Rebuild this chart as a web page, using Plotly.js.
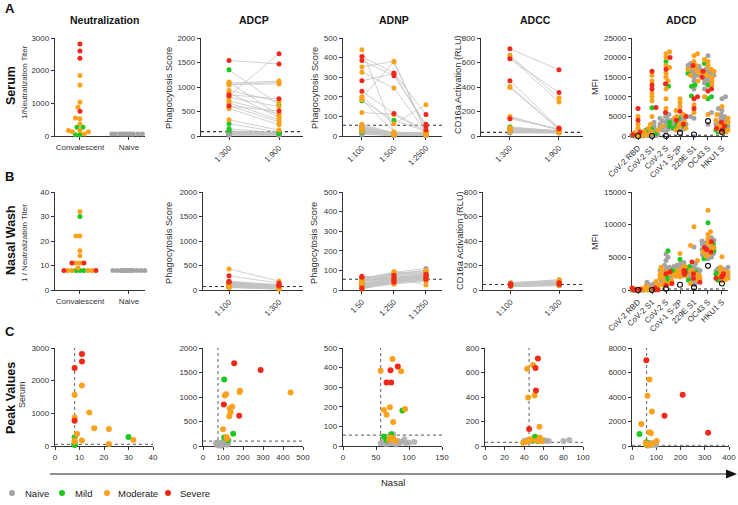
<!DOCTYPE html>
<html><head><meta charset="utf-8">
<script src="https://cdn.plot.ly/plotly-3.0.1.min.js"></script>
<style>html,body{margin:0;padding:0;background:#fff}#chart{width:738px;height:505px}</style>
</head><body><div id="chart"></div>
<script>
// ---------------- DATA ----------------
const groupNames = ['Naive','Mild','Moderate','Severe'];
const groupColors = ['#a4a4a4','#1fc81f','#fba21d','#f2281b'];

const neutCategories = ['Convalescent','Naive'];
const neutSerumSevere = [2820, 2600, 2380, 760];
const neutSerumMild = [270, 270, 40, 40];
const neutSerumModerate = [1850, 1560, 1030, 880, 550, 530, 370, 170, 170, 130, 130, 60];
const neutSerumNaive = [60, 60, 60, 60, 60, 60, 60, 60, 60, 60, 60, 60];
const neutNasalSevere = [11, 11, 8, 8];
const neutNasalMild = [30, 8, 8, 8];
const neutNasalModerate = [32, 22, 22, 16, 14, 11, 11, 9, 8, 8, 8, 8];
const neutNasalNaive = [8, 8, 8, 8, 8, 8, 8, 8, 8, 8, 8, 8];

const adcpSerumDilutions = ['1:300','1:900'];
const adcpSerumSevere = [[1540,1470],[820,1680],[840,760],[610,510]];
const adcpSerumMild = [[1350,640],[250,80],[150,60],[110,50]];
const adcpSerumModerate = [[1080,1120],[1100,420],[1060,1060],[1040,1100],[930,700],[880,380],[790,600],[720,450],[680,330],[620,290],[560,230],[330,120]];
const adcpSerumNaive = [[95,70],[85,60],[80,75],[70,50],[65,45],[60,55],[55,40],[50,35],[45,50],[40,30],[35,25],[30,40],[25,20],[20,30],[15,15]];

const adnpSerumDilutions = ['1:100','1:500','1:2500'];
const adnpSerumSevere = [[405,322,110],[385,308,60],[282,318,50],[228,115,30]];
const adnpSerumMild = [[180,80,25],[40,15,10],[30,12,10],[20,10,8]];
const adnpSerumModerate = [[440,20,15],[352,382,20],[325,245,20],[200,62,160],[195,378,20],[185,20,12],[120,110,20],[60,15,10],[45,12,8],[35,10,10],[30,8,5],[25,5,5]];
const adnpSerumNaive = [[55,15,20],[50,12,18],[45,10,15],[40,10,12],[35,8,10],[30,8,10],[28,6,8],[25,6,8],[22,5,6],[20,5,6],[18,4,5],[15,4,5],[12,3,4],[10,3,4],[8,2,3]];

const adccSerumDilutions = ['1:300','1:900'];
const adccSerumSevere = [[712,540],[630,355],[452,65],[140,60]];
const adccSerumMild = [[75,40],[60,35],[50,30],[45,30]];
const adccSerumModerate = [[660,310],[645,278],[405,60],[395,55],[160,50],[150,50],[70,40],[60,35],[55,35],[50,30],[45,30],[40,30]];
const adccSerumNaive = [[65,45],[60,42],[55,40],[52,38],[50,36],[48,35],[45,34],[42,33],[40,32],[38,31],[35,30],[32,29],[30,28],[28,27],[25,25]];

const antigens = ['CoV-2 RBD','CoV-2 S1','CoV-2 S','CoV-1 S-2P','229E S1','OC43 S','HKU1 S'];
const adcdSerumSevere = [[7000,4000,1000,300],[16500,13000,12000,7300],[20000,17000,13300,6000],[6300,5000,4000,3000],[18000,10000,9500,7000],[16500,12000,11500,15000],[3500,2500,2000,1500]];
const adcdSerumMild = [[200,150,100,50],[7200,1800,1500,500],[19000,12700,3500,2500],[4500,3000,2500,2000],[13000,12700,10200,16000],[18500,13000,10000,9500],[3000,2000,1500,1000]];
const adcdSerumModerate = [
 [5000,3000,2000,1200,800,500,400,300,200,150,100,50],
 [15500,14000,11000,10000,9000,5000,3000,2000,1500,1000,600,300],
 [21500,21000,20000,18000,17500,16000,15000,14000,12000,9500,7000,2500],
 [9500,8500,7500,6500,5500,5000,4500,3500,3000,2500,2000,1500],
 [21000,20500,19000,18000,17000,16500,15500,14000,8000,6000,16000,17500],
 [19500,19000,18000,16000,15500,14000,13000,10000,5500,15000,16500,17000],
 [7500,5500,4500,4000,3500,3000,2800,2500,2000,1500,1200,1000]];
const adcdSerumNaive = [
 [400,300,300,200,200,150,100,100,50,50,0,0,0,0,0],
 [3500,2500,1500,1200,1000,800,700,600,500,400,300,200,100,100,0],
 [5500,5000,4500,4200,4000,3800,3500,3000,2800,2500,2200,2000,1800,1500,1000],
 [5000,4500,4000,3800,3500,3300,3100,3000,2800,2600,2400,2200,2000,1800,1500],
 [18500,18000,17800,17500,17200,17000,16800,16500,16000,15500,15000,14000,12000,5000,4500],
 [20500,17000,16500,16000,15800,15500,15500,15200,15000,14500,14000,13500,12000,6000,3000],
 [10000,9500,7000,6500,5500,5000,4500,4000,3500,3000,2500,2000,1800,1500,1000]];
const adcdSerumControl = [0, 0, 0, 800, 400, 3800, 1000];

const adcpNasalDilutions = ['1:100','1:300'];
const adcpNasalSevere = [[290,140],[180,110],[170,90],[160,80]];
const adcpNasalMild = [[120,70],[100,60],[90,50],[80,40]];
const adcpNasalModerate = [[430,180],[150,100],[140,90],[130,80],[120,70],[110,60],[100,50],[90,40],[80,30],[70,30],[60,20],[50,20]];
const adcpNasalNaive = [[150,100],[140,90],[130,85],[120,80],[110,75],[100,70],[95,65],[90,60],[85,55],[80,50],[75,45],[70,40],[65,35],[60,30],[50,25]];

const adnpNasalDilutions = ['1:50','1:250','1:1250'];
const adnpNasalSevere = [[70,60,80],[10,50,70],[65,75,60],[5,40,55]];
const adnpNasalMild = [[30,60,70],[25,55,65],[20,50,75],[15,45,60]];
const adnpNasalModerate = [[5,95,65],[40,70,25],[35,30,80],[60,85,90],[50,65,70],[45,60,75],[30,55,60],[25,50,85],[20,45,55],[15,40,50],[10,35,95],[55,80,100]];
const adnpNasalNaive = [[60,90,110],[55,85,100],[50,80,95],[45,75,90],[40,70,85],[35,65,80],[30,60,75],[28,58,70],[25,55,68],[22,50,65],[20,48,62],[18,45,60],[15,40,55],[12,35,50],[10,30,45]];

const adccNasalDilutions = ['1:100','1:300'];
const adccNasalSevere = [[50,60],[45,55],[40,50],[35,45]];
const adccNasalMild = [[48,52],[42,48],[38,44],[36,40]];
const adccNasalModerate = [[58,85],[55,80],[52,70],[50,65],[47,60],[45,55],[43,50],[40,48],[38,45],[36,42],[34,40],[32,38]];
const adccNasalNaive = [[60,75],[55,70],[52,65],[50,62],[48,60],[46,58],[44,55],[42,52],[40,50],[38,48],[36,45],[34,42],[32,40],[30,38],[28,35]];

const adcdNasalSevere = [[300,100,50,0],[300,200,100,50],[2800,2500,1000,700],[3000,2800,2600,2400],[4300,1800,2500,1200],[7400,5800,6200,6500],[2200,2000,2500,1800]];
const adcdNasalMild = [[100,50,0,0],[200,100,50,0],[6000,1500,2200,3000],[4700,3200,2800,2600],[3600,2000,1500,2800],[10300,4800,6000,7000],[2600,2400,2000,1500]];
const adcdNasalModerate = [
 [200,150,100,80,60,50,40,30,20,10,0,0],
 [1300,800,600,400,300,250,200,150,100,50,0,0],
 [3500,3000,2800,2500,2300,2000,1800,1500,1200,1000,800,2600],
 [5600,3600,3400,3000,2800,2600,2500,2400,2300,2200,2100,2000],
 [9700,6800,4500,3000,2800,2600,2400,2200,2000,1800,1500,1000],
 [12200,8900,8500,7800,7000,6500,6200,6000,5800,5500,5200,7200],
 [5100,3500,3000,2800,2600,2400,2200,2000,1800,1600,1400,2700]];
const adcdNasalNaive = [
 [150,120,100,80,60,50,40,30,20,10,0,0,0,0,0],
 [1200,900,800,700,600,500,450,400,350,300,250,200,150,100,50],
 [5500,5000,4500,3800,3500,3300,3000,2800,2600,2400,2200,2000,1800,1600,1400],
 [4200,4000,3800,3600,3400,3200,3000,2900,2800,2700,2600,2500,2400,2300,2200],
 [6600,4000,3500,3200,3000,2800,2600,2400,2200,2000,1800,1600,1400,1200,800],
 [8000,7600,7500,7200,7000,6800,6600,6400,6200,6000,5800,5600,5400,5000,4800],
 [3500,3300,3200,3000,2900,2800,2700,2600,2500,2400,2300,2200,2100,2000,1800]];
const adcdNasalControl = [0, 0, 200, 800, 400, 3700, 1000];

// Cutoff values
const cutoffSerum = [90, 55, 30, 200];   // ADCP, ADNP, ADCC, ADCD
const cutoffNasal = [70, 55, 45, 150];
const peakCutNasal = [8, 75, 57, 45, 60];
const peakCutSerum = [50, 100, 55, 30, 60];

// Peak values (x = nasal, y = serum)
const peakNeutX = {sev:[11,11,8,8], mild:[8,30,8,8], mod:[11,8,14,8,16,22,9,11,32,22,8,8], naive:[8,8,8,8,8,8,8,8]};
const peakNeutY = {sev:[2820,2590,2390,770], mild:[270,275,40,40], mod:[1850,1570,1025,870,545,520,370,165,185,60,130,170], naive:[60,50,40,55,45,60,50,40]};
const peakAdcpX = {sev:[156,288,104,181], mild:[106,151,106,126], mod:[438,185,183,109,116,146,134,138,131,100,117,120], naive:[65,70,75,80,85,90,95,100,105,110,115,120,125,75,90]};
const peakAdcpY = {sev:[1690,1550,845,615], mild:[1355,250,175,115], mod:[1090,1130,1100,1030,1055,800,765,690,605,340,185,150], naive:[60,30,70,40,55,20,65,45,35,60,50,25,40,10,5]};
const peakAdnpX = {sev:[83,72,66,73], mild:[90,62,73,66], mod:[75,57,88,62,71,66,94,76,72,76,70,80], naive:[76,93,108,83,75,57,95,85,60,65,70,88,100,80,68]};
const peakAdnpY = {sev:[406,386,324,324], mild:[181,48,60,31], mod:[444,384,382,184,198,160,189,123,44,38,30,25], naive:[60,34,20,26,14,14,14,14,20,10,18,22,16,8,12]};
const peakAdccX = {sev:[54,51.5,52,45], mild:[51,53.6,48,50], mod:[49,43,50.5,44,55.6,56,39,42.7,47,53,58,46], naive:[40,42,44,46,48,50,52,55,58,60,62,65,80,86,54]};
const peakAdccY = {sev:[715,636,453,139], mild:[76,41,45,50], mod:[661,631,412,396,158,68,27,35,50,45,40,55], naive:[40,45,50,42,38,55,48,44,40,46,42,41,41,49,52]};
const peakAdcdX = {sev:[59,209,134,314], mild:[31,59,62,65], mod:[72,64,82,38,72,78,102,57,60,66,70,85], naive:[62,65,68,70,72,75,78,80,82,85,88,90,95,98,100]};
const peakAdcdY = {sev:[6990,4180,2460,1090], mild:[980,300,100,50], mod:[5430,4100,2810,1800,1120,1040,410,220,150,100,80,200], naive:[100,200,150,250,180,120,220,160,90,140,210,130,240,170,60]};

// ---------------- BUILD ----------------
const W = 738, H = 505;
const FONT = 'Liberation Sans, Arial, Helvetica, sans-serif';
const traces = [], shapes = [], annotations = [];
const layout = {
  width: W, height: H, margin: {l:0, r:0, t:0, b:0},
  paper_bgcolor: '#fff', plot_bgcolor: 'rgba(0,0,0,0)', showlegend: false,
  font: {family: FONT, color: '#222', size: 8}
};
const baseAxis = {showgrid:false, zeroline:false, showline:true, linecolor:'#333', linewidth:1.2,
  ticks:'outside', ticklen:3, tickwidth:1, tickcolor:'#333', tickfont:{size:8, color:'#333', family:FONT},
  fixedrange:true, automargin:false, layer:'below traces'};
const sfx = n => n === 1 ? '' : String(n);

function setAxes(n, P) {
  const xa = Object.assign({}, baseAxis, {domain:[P.xpx[0]/W, P.xpx[1]/W], range:P.xr, anchor:'y'+sfx(n)}, P.xo || {});
  const ya = Object.assign({}, baseAxis, {domain:[1-P.ypx[1]/H, 1-P.ypx[0]/H], range:P.yr, anchor:'x'+sfx(n), dtick:P.dy, tickformat:'d'}, P.yo || {});
  layout['xaxis'+sfx(n)] = xa; layout['yaxis'+sfx(n)] = ya;
}

function swarmPanel(n, P, series, d, maxHalf) {
  setAxes(n, P);
  const pxPerX = (P.xpx[1]-P.xpx[0])/(P.xr[1]-P.xr[0]);
  const pxPerY = (P.ypx[1]-P.ypx[0])/(P.yr[1]-P.yr[0]);
  const nc = series[0].vals.length;
  const out = series.map(() => ({x:[], y:[]}));
  for (let c = 0; c < nc; c++) {
    const pts = [];
    series.forEach((s, si) => { if (!s.center) (s.vals[c] || []).forEach(v => pts.push({v, si})); });
    pts.sort((a, b) => a.v - b.v);
    const placed = [];
    pts.forEach((p, k) => {
      const py = p.v * pxPerY;
      let chosen = null, bestOff = 0, bestD = -1;
      const first = k % 2 ? -1 : 1;
      for (let s = 0; s <= maxHalf + 1e-9 && chosen === null; s += 0.5) {
        for (const sg of (s === 0 ? [1] : [first, -first])) {
          const off = s * sg;
          let md = Infinity;
          for (const q of placed) { const dd = Math.hypot(off - q.x, py - q.y); if (dd < md) md = dd; }
          if (md >= d) { chosen = off; break; }
          if (md > bestD) { bestD = md; bestOff = off; }
        }
      }
      if (chosen === null) chosen = bestOff;
      placed.push({x: chosen, y: py});
      out[p.si].x.push(c + chosen / pxPerX); out[p.si].y.push(p.v);
    });
    series.forEach((s, si) => { if (s.center) { out[si].x.push(c); out[si].y.push(s.vals[c]); } });
  }
  series.forEach((s, si) => {
    const marker = s.open ? {color:'rgba(0,0,0,0)', size:s.size || 5, line:{color:'#111', width:1.1}}
                          : {color:s.color, size:s.size || 5, line:{width:0}};
    traces.push({type:'scatter', mode:'markers', x:out[si].x, y:out[si].y, marker, cliponaxis:false,
      xaxis:'x'+sfx(n), yaxis:'y'+sfx(n), name:s.name, hoverinfo:'skip'});
  });
}

function pairedPanel(n, P, groupsSubj) {
  setAxes(n, P);
  const lx = [], ly = [];
  groupsSubj.forEach(g => g.subj.forEach(s => { s.forEach((v, i) => { lx.push(i); ly.push(v); }); lx.push(null); ly.push(null); }));
  traces.push({type:'scatter', mode:'lines', x:lx, y:ly, line:{color:'#c4c4c4', width:0.8}, cliponaxis:false,
    xaxis:'x'+sfx(n), yaxis:'y'+sfx(n), hoverinfo:'skip'});
  groupsSubj.forEach(g => {
    const x = [], y = [];
    g.subj.forEach(s => s.forEach((v, i) => { x.push(i); y.push(v); }));
    traces.push({type:'scatter', mode:'markers', x, y, marker:{color:g.color, size:5, line:{width:0}}, cliponaxis:false,
      xaxis:'x'+sfx(n), yaxis:'y'+sfx(n), name:g.name, hoverinfo:'skip'});
  });
}

function scatterPanel(n, P, X, Y) {
  setAxes(n, P);
  const keys = ['naive','mild','mod','sev'];
  keys.forEach((k, i) => {
    traces.push({type:'scatter', mode:'markers', x:X[k], y:Y[k],
      marker:{color: i === 0 ? 'rgba(170,170,170,0.85)' : groupColors[i], size:6, line:{width:0}}, cliponaxis:false,
      xaxis:'x'+sfx(n), yaxis:'y'+sfx(n), name:groupNames[i], hoverinfo:'skip'});
  });
}

function hCut(n, val, color, width) {
  shapes.push({type:'line', xref:'x'+sfx(n)+' domain', yref:'y'+sfx(n), x0:0, x1:1, y0:val, y1:val,
    line:{color:color || '#333', width:width || 1.1, dash:'dot'}, layer:'below'});
}
function vCut(n, val, color, width) {
  shapes.push({type:'line', xref:'x'+sfx(n), yref:'y'+sfx(n)+' domain', x0:val, x1:val, y0:0, y1:1,
    line:{color:color || '#333', width:width || 1.1, dash:'dot'}, layer:'below'});
}

const rowA = [38,136], rowB = [192,290], rowC = [348,446];
const catX = (labels, angle) => ({tickmode:'array', tickvals:labels.map((_, i) => i), ticktext:labels, tickangle:angle});

const gS = (sev, mild, mod, naive) => [
  {name:'Naive', color:groupColors[0], subj:naive},
  {name:'Mild', color:groupColors[1], subj:mild},
  {name:'Moderate', color:groupColors[2], subj:mod},
  {name:'Severe', color:groupColors[3], subj:sev}];

// Row A
swarmPanel(1, {xpx:[55,145], ypx:rowA, xr:[-0.51,1.33], yr:[0,3000], dy:1000, xo:catX(neutCategories, 0)}, [
  {name:'Naive', color:groupColors[0], vals:[[], neutSerumNaive]},
  {name:'Mild', color:groupColors[1], vals:[neutSerumMild, []]},
  {name:'Moderate', color:groupColors[2], vals:[neutSerumModerate, []]},
  {name:'Severe', color:groupColors[3], vals:[neutSerumSevere, []]}], 4.2, 17);
pairedPanel(2, {xpx:[201,303], ypx:rowA, xr:[-0.56,1.48], yr:[0,2000], dy:500, xo:catX(adcpSerumDilutions, -45)},
  gS(adcpSerumSevere, adcpSerumMild, adcpSerumModerate, adcpSerumNaive));
pairedPanel(3, {xpx:[343,442], ypx:rowA, xr:[-0.59,2.5], yr:[0,500], dy:100, xo:catX(adnpSerumDilutions, -45)},
  gS(adnpSerumSevere, adnpSerumMild, adnpSerumModerate, adnpSerumNaive));
pairedPanel(4, {xpx:[481,583], ypx:rowA, xr:[-0.59,1.49], yr:[0,800], dy:200, xo:catX(adccSerumDilutions, -45)},
  gS(adccSerumSevere, adccSerumMild, adccSerumModerate, adccSerumNaive));
swarmPanel(5, {xpx:[632,728], ypx:rowA, xr:[-0.43,6.43], yr:[0,25000], dy:5000, xo:catX(antigens, -45)}, [
  {name:'Naive', color:groupColors[0], vals:adcdSerumNaive},
  {name:'Mild', color:groupColors[1], vals:adcdSerumMild},
  {name:'Moderate', color:groupColors[2], vals:adcdSerumModerate},
  {name:'Severe', color:groupColors[3], vals:adcdSerumSevere},
  {name:'Control', open:true, center:true, vals:adcdSerumControl}], 3.6, 6);

// Row B
swarmPanel(6, {xpx:[55,145], ypx:rowB, xr:[-0.51,1.33], yr:[0,40], dy:10, xo:catX(neutCategories, 0)}, [
  {name:'Naive', color:groupColors[0], vals:[[], neutNasalNaive]},
  {name:'Mild', color:groupColors[1], vals:[neutNasalMild, []]},
  {name:'Moderate', color:groupColors[2], vals:[neutNasalModerate, []]},
  {name:'Severe', color:groupColors[3], vals:[neutNasalSevere, []]}], 3.6, 17);
pairedPanel(7, {xpx:[203,303], ypx:rowB, xr:[-0.52,1.48], yr:[0,2000], dy:500, xo:catX(adcpNasalDilutions, -45)},
  gS(adcpNasalSevere, adcpNasalMild, adcpNasalModerate, adcpNasalNaive));
pairedPanel(8, {xpx:[343,442], ypx:rowB, xr:[-0.59,2.5], yr:[0,500], dy:100, xo:catX(adnpNasalDilutions, -45)},
  gS(adnpNasalSevere, adnpNasalMild, adnpNasalModerate, adnpNasalNaive));
pairedPanel(9, {xpx:[483,583], ypx:rowB, xr:[-0.57,1.49], yr:[0,800], dy:200, xo:catX(adccNasalDilutions, -45)},
  gS(adccNasalSevere, adccNasalMild, adccNasalModerate, adccNasalNaive));
swarmPanel(10, {xpx:[632,728], ypx:rowB, xr:[-0.43,6.43], yr:[0,15000], dy:5000, xo:catX(antigens, -45)}, [
  {name:'Naive', color:groupColors[0], vals:adcdNasalNaive},
  {name:'Mild', color:groupColors[1], vals:adcdNasalMild},
  {name:'Moderate', color:groupColors[2], vals:adcdNasalModerate},
  {name:'Severe', color:groupColors[3], vals:adcdNasalSevere},
  {name:'Control', open:true, center:true, vals:adcdNasalControl}], 3.6, 6);

// Row C
const cx = dt => ({dtick:dt, tickformat:'d'});
scatterPanel(11, {xpx:[55,153], ypx:rowC, xr:[0,40], yr:[0,3000], dy:1000, xo:cx(10)}, peakNeutX, peakNeutY);
scatterPanel(12, {xpx:[203,303], ypx:rowC, xr:[0,500], yr:[0,2000], dy:500, xo:cx(100)}, peakAdcpX, peakAdcpY);
scatterPanel(13, {xpx:[343,442], ypx:rowC, xr:[0,150], yr:[0,500], dy:100, xo:cx(50)}, peakAdnpX, peakAdnpY);
scatterPanel(14, {xpx:[485,583], ypx:rowC, xr:[0,100], yr:[0,800], dy:200, xo:cx(20)}, peakAdccX, peakAdccY);
scatterPanel(15, {xpx:[632,729], ypx:rowC, xr:[0,400], yr:[0,8000], dy:2000, xo:cx(100)}, peakAdcdX, peakAdcdY);

// cutoff lines
[2,3,4,5].forEach((n, i) => hCut(n, cutoffSerum[i]));
[7,8,9,10].forEach((n, i) => hCut(n, cutoffNasal[i]));
[11,12,13,14,15].forEach((n, i) => { vCut(n, peakCutNasal[i], '#777', 1.2); hCut(n, peakCutSerum[i], '#777', 1.2); });

// ---------------- TEXT ----------------
const fx = p => p / W, fy = p => 1 - p / H;
function txt(text, x, y, size, opts) {
  annotations.push(Object.assign({text, x:fx(x), y:fy(y), xref:'paper', yref:'paper', showarrow:false,
    xanchor:'center', yanchor:'middle', font:{family:FONT, size, color:'#111'}}, opts || {}));
}
txt('<b>A</b>', 3, 8, 13, {xanchor:'left'});
txt('<b>B</b>', 3, 176, 13, {xanchor:'left'});
txt('<b>C</b>', 3, 331, 13, {xanchor:'left'});
txt('<b>Serum</b>', 11, 86, 12.5, {textangle:-90});
txt('<b>Nasal Wash</b>', 11, 240, 12.5, {textangle:-90});
txt('<b>Peak Values</b>', 11, 398, 12.5, {textangle:-90});
txt('<b>Neutralization</b>', 104.5, 20, 10.5);
txt('<b>ADCP</b>', 254, 20, 10.5);
txt('<b>ADNP</b>', 394, 20, 10.5);
txt('<b>ADCC</b>', 535, 20, 10.5);
txt('<b>ADCD</b>', 681, 20, 10.5);

const yt = (t, x, y, s) => txt(t, x, y, s, {textangle:-90, font:{family:FONT, size:s, color:'#333'}});
yt('1/Neutralization Titer', 24, 82, 8);
yt('Phagocytosis Score', 169, 88, 9.3);
yt('Phagocytosis Score', 315, 88, 9.3);
yt('CD16a Activation (RLU)', 458, 85, 9.3);
yt('MFI', 595, 87, 9.3);
yt('1 / Neutralization Titer', 24, 243, 8);
yt('Phagocytosis Score', 169, 243, 9.3);
yt('Phagocytosis Score', 314, 243, 9.3);
yt('CD16a Activation (RLU)', 460, 240, 9.3);
yt('MFI', 595, 242, 9.3);
yt('Serum', 22, 395, 9);

// Nasal axis arrow
shapes.push({type:'line', xref:'paper', yref:'paper', x0:fx(50), x1:fx(728), y0:fy(474), y1:fy(474), line:{color:'#222', width:1.2}});
shapes.push({type:'path', xref:'paper', yref:'paper', path:`M ${fx(726)} ${fy(469.5)} L ${fx(737)} ${fy(474)} L ${fx(726)} ${fy(478.5)} Z`, fillcolor:'#111', line:{width:0}});
txt('Nasal', 393, 482, 9.5, {font:{family:FONT, size:9.5, color:'#222'}});

// Legend (manual)
const legX = [12, 62, 107, 168], legTX = [22.5, 72.5, 116, 178];
groupNames.forEach((g, i) => {
  shapes.push({type:'circle', xref:'paper', yref:'paper', x0:fx(legX[i]-3), x1:fx(legX[i]+3), y0:fy(493+3), y1:fy(493-3),
    fillcolor:groupColors[i], line:{width:0}});
  txt(g, legTX[i], 493, 9.5, {xanchor:'left', font:{family:FONT, size:9.5, color:'#222'}});
});

layout.shapes = shapes;
layout.annotations = annotations;
Plotly.newPlot('chart', traces, layout, {staticPlot:true, displayModeBar:false});
</script>
</body></html>
